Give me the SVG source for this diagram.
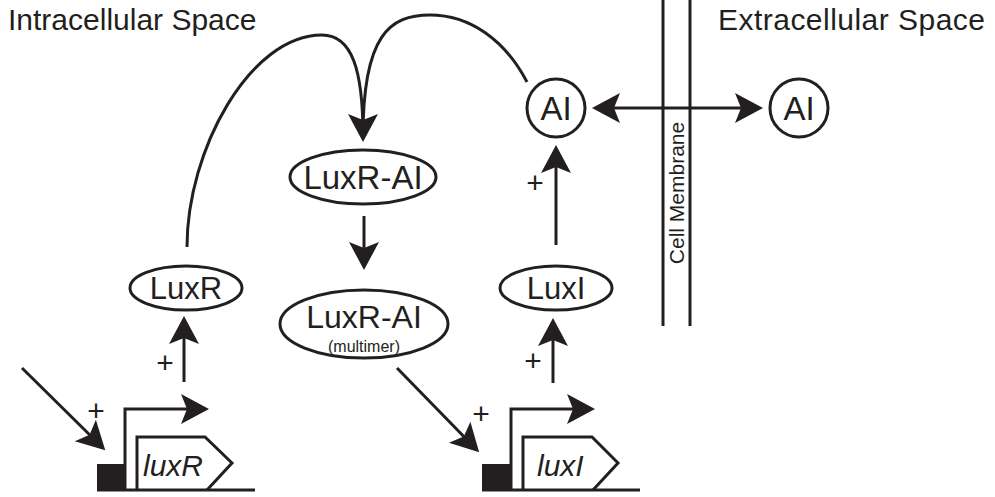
<svg xmlns="http://www.w3.org/2000/svg" width="995" height="497" viewBox="0 0 995 497">
<defs>
<style>
.ln{fill:none;stroke:#231f20;stroke-width:3}
.nd{fill:#fff;stroke:#231f20;stroke-width:3}
.t{font-family:"Liberation Sans",Arial,sans-serif;fill:#231f20;text-anchor:middle}
.g{font-family:"Liberation Sans",Arial,sans-serif;font-style:italic;fill:#231f20}
.p{font-family:"Liberation Sans",Arial,sans-serif;fill:#231f20;text-anchor:middle;font-size:30px}
</style>
<marker id="ah" viewBox="-34 -16 36 32" refX="-6" refY="0" markerWidth="36" markerHeight="32" orient="auto-start-reverse" markerUnits="userSpaceOnUse">
<path d="M0,0 L-28,-15 L-22,0 L-28,15 Z" fill="#231f20"/>
</marker>
</defs>
<rect width="995" height="497" fill="#fff"/>
<text class="t" x="8" y="30" style="text-anchor:start;font-size:30px">Intracellular Space</text>
<text class="t" x="718" y="30" textLength="267" style="text-anchor:start;font-size:30px">Extracellular Space</text>
<g id="membrane">
<line class="ln" x1="663" y1="0" x2="663" y2="326"/>
<line class="ln" x1="690" y1="0" x2="690" y2="326"/>
<text class="t" transform="translate(684,193) rotate(-90)" style="font-size:21px">Cell Membrane</text>
</g>
<g id="connectors">
<path class="ln" d="M187,247 C187,150 250,35 322,35 C352,35 363,70 363,136" marker-end="url(#ah)"/>
<path class="ln" d="M527,82 C505,40 470,15 430,15 C390,15 363,35 363,136"/>
<line class="ln" x1="598" y1="108" x2="757" y2="108" marker-start="url(#ah)" marker-end="url(#ah)"/>
<line class="ln" x1="364" y1="216" x2="364" y2="264" marker-end="url(#ah)"/>
<line class="ln" x1="556" y1="245" x2="556" y2="151" marker-end="url(#ah)"/>
<line class="ln" x1="184" y1="382" x2="184" y2="322" marker-end="url(#ah)"/>
<line class="ln" x1="553" y1="383" x2="553" y2="324" marker-end="url(#ah)"/>
<line class="ln" x1="22" y1="368" x2="101" y2="446" marker-end="url(#ah)"/>
<line class="ln" x1="397" y1="368" x2="475" y2="448" marker-end="url(#ah)"/>
<text class="p" x="165" y="373">+</text>
<text class="p" x="533" y="371">+</text>
<text class="p" x="535" y="193">+</text>
<text class="p" x="96" y="421">+</text>
<text class="p" x="481" y="424">+</text>
</g>
<g id="luxR-gene">
<rect x="97" y="464" width="27" height="27" fill="#231f20"/>
<line class="ln" x1="97" y1="490" x2="255" y2="490"/>
<path class="ln" d="M125,490 V409 H203" marker-end="url(#ah)"/>
<path class="ln" d="M137,490 V437 H205 L232,463 L207,490"/>
<text class="g" x="143" y="476" style="font-size:30px">luxR</text>
</g>
<g id="luxI-gene">
<rect x="482" y="464" width="28" height="27" fill="#231f20"/>
<line class="ln" x1="482" y1="490" x2="640" y2="490"/>
<path class="ln" d="M511,490 V409 H589" marker-end="url(#ah)"/>
<path class="ln" d="M523,490 V437 H592 L618,463 L593,490"/>
<text class="g" x="537" y="476" style="font-size:30px">luxI</text>
</g>
<g id="LuxR">
<ellipse class="nd" cx="186" cy="288" rx="56" ry="22"/>
<text class="t" x="186" y="299" style="font-size:31px">LuxR</text>
</g>
<g id="LuxR-AI">
<ellipse class="nd" cx="363" cy="177" rx="73" ry="27"/>
<text class="t" x="363" y="189" style="font-size:33px">LuxR-AI</text>
</g>
<g id="LuxR-AI-multimer">
<ellipse class="nd" cx="364" cy="324" rx="84" ry="34"/>
<text class="t" x="364" y="328" style="font-size:32px">LuxR-AI</text>
<text class="t" x="364" y="352" style="font-size:16px">(multimer)</text>
</g>
<g id="LuxI">
<ellipse class="nd" cx="556" cy="288" rx="56" ry="22"/>
<text class="t" x="556" y="299" style="font-size:31px">LuxI</text>
</g>
<g id="AI-in">
<circle class="nd" cx="556" cy="108" r="29"/>
<text class="t" x="556" y="120" style="font-size:33px">AI</text>
</g>
<g id="AI-out">
<circle class="nd" cx="799" cy="108" r="29"/>
<text class="t" x="799" y="120" style="font-size:33px">AI</text>
</g>
</svg>
